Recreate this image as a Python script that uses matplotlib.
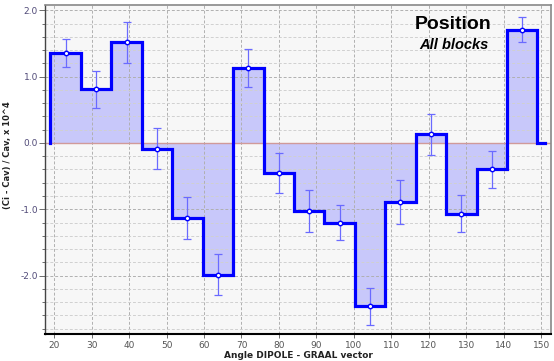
import numpy as np
import matplotlib
matplotlib.use("Agg")
import matplotlib.pyplot as plt
from matplotlib.ticker import MultipleLocator

# ---- data ----
bin_start = 19.0
bin_width = 8.125
values = [1.355, 0.81, 1.52, -0.086, -1.13, -1.99, 1.134, -0.457,
          -1.03, -1.20, -2.46, -0.89, 0.13, -1.07, -0.40, 1.71]
errors = [0.21, 0.28, 0.31, 0.31, 0.32, 0.31, 0.29, 0.30,
          0.32, 0.27, 0.28, 0.33, 0.31, 0.28, 0.28, 0.19]
tail_end = 151.0
xticks = [20, 30, 40, 50, 60, 70, 80, 90, 100, 110, 120, 130, 140, 150]
yticks = [-2.0, -1.0, 0.0, 1.0, 2.0]
title = "Position"
subtitle = "All blocks"
xlabel = "Angle DIPOLE - GRAAL vector"
ylabel = "(Ci - Cav) / Cav, x 10^4"

n = len(values)
edges = bin_start + bin_width * np.arange(n + 1)
centers = (edges[:-1] + edges[1:]) / 2
vals = np.array(values)

fig = plt.figure(figsize=(5.54, 3.61), dpi=100)
fig.patch.set_facecolor("white")
ax = fig.add_axes([0.081, 0.075, 0.914, 0.911])
ax.set_facecolor("#f7f7f7")

ax.set_xlim(17.52, 152.67)
ax.set_ylim(-2.88, 2.08)

# grid
ax.xaxis.set_major_locator(MultipleLocator(10))
ax.yaxis.set_major_locator(MultipleLocator(1.0))
ax.yaxis.set_minor_locator(MultipleLocator(0.2))
ax.grid(True, which="major", axis="both", color="#b0b0b0", ls=(0, (3, 2)), lw=0.7, zorder=0)
ax.grid(True, which="minor", axis="y", color="#d0d0d0", ls=(0, (3, 2)), lw=0.7, zorder=0)

# fill
ax.stairs(vals, edges, baseline=0, fill=True, color="#c8c8fa", zorder=1)
# zero line
ax.axhline(0, color="#d09a9a", lw=1.0, zorder=2)
# outline
sx = np.concatenate([[edges[0]], np.repeat(edges, 2)[1:-1], [edges[-1], tail_end]])
sy = np.concatenate([[0], np.repeat(vals, 2), [0, 0]])
ax.plot(sx, sy, color="#0000ff", lw=2.3, solid_joinstyle="miter", zorder=3)

# error bars
ax.errorbar(centers, vals, yerr=errors, fmt="none", ecolor="#6a6aff", elinewidth=0.9,
            capsize=3, capthick=0.9, zorder=4)
ax.plot(centers, vals, "o", ms=3.2, mfc="white", mec="#0000ff", mew=1.0, zorder=5)

# ticks
ax.set_xticks(xticks)
ax.set_yticks(yticks)
ax.set_yticklabels([f"{v:.1f}" for v in yticks])
ax.tick_params(axis="x", labelsize=6.5, labelcolor="#555555", length=3, width=0.6, color="#555555", pad=2)
ax.tick_params(axis="y", which="major", labelsize=6.5, labelcolor="#504a78", length=4, width=0.6, color="#555555", pad=1)
ax.tick_params(axis="y", which="minor", length=2.5, width=0.6, color="#555555")

for s in ["top", "right"]:
    ax.spines[s].set_color("#888888")
    ax.spines[s].set_linewidth(1.2)
ax.spines["bottom"].set_color("black")
ax.spines["bottom"].set_linewidth(1.5)
ax.spines["left"].set_color("#444444")
ax.spines["left"].set_linewidth(1.0)

ax.set_xlabel(xlabel, fontsize=6.5, fontweight="bold", labelpad=1, color="#222222")
ax.set_ylabel(ylabel, fontsize=6.0, fontweight="bold", color="#222222")
ax.yaxis.set_label_coords(-0.064, 0.544)

fig.text(453 / 554, 1 - 24.5 / 361, title, fontsize=14, fontweight="bold",
         family="Liberation Sans", ha="center", va="center")
fig.text(453.5 / 554, 1 - 45 / 361, subtitle, fontsize=10.5, fontweight="bold", style="italic",
         family="Liberation Sans", ha="center", va="center")

fig.savefig("out.png", dpi=100, facecolor="white")
